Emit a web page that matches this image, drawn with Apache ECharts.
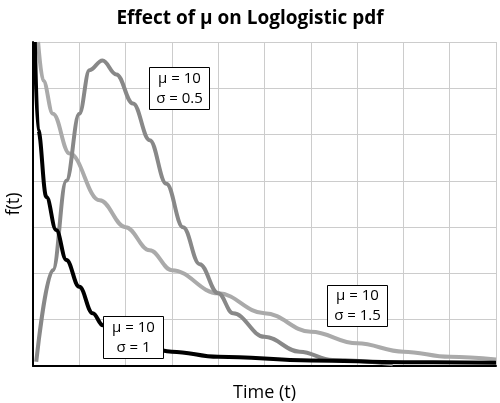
<!DOCTYPE html><html><head><meta charset="utf-8"><script src="https://cdn.jsdelivr.net/npm/echarts@6/dist/echarts.min.js"></script></head><body style="margin:0"><div id="c" style="width:500px;height:403px"></div><script>
const sigma05 = [[0.07,0.09],[0.43,2.07],[0.72,4.0],[1.0,5.45],[1.22,6.39],[1.5,6.6],[1.8,6.3],[2.16,5.67],[2.52,4.88],[2.88,3.94],[3.24,3.0],[3.6,2.2],[4.0,1.57],[4.32,1.14],[5.0,0.63],[5.76,0.31],[6.47,0.13],[7.77,0.04]];
const sigma15 = [[0.11,7.0],[0.22,6.17],[0.43,5.45],[0.79,4.59],[1.44,3.58],[2.0,3.0],[2.52,2.5],[3.0,2.07],[4.0,1.57],[5.0,1.14],[6.0,0.74],[7.0,0.49],[8.0,0.31],[9.0,0.2],[10,0.14]];
const sigma1 = [[0.04,7.0],[0.11,5.1],[0.29,3.65],[0.5,2.94],[0.72,2.29],[1.0,1.71],[1.29,1.14],[1.51,0.88],[2.0,0.56],[3.0,0.31],[4.0,0.2],[6.0,0.12],[8.0,0.08],[10,0.07]];
const F = '"Open Sans", "DejaVu Sans", sans-serif';
const ch = echarts.init(document.getElementById('c'));
function box(x,y,w,h,t){return {type:'group',left:x,top:y,z:100,children:[{type:'rect',z:100,shape:{x:0,y:0,width:w,height:h},style:{fill:'#fff',stroke:'#000',lineWidth:1}},{type:'text',z:101,style:{x:w/2,y:h/2,text:t,align:'center',verticalAlign:'middle',font:'15px '+F,fill:'#000',lineHeight:20}}]};}
ch.setOption({
 animation:false,
 title:{text:'Effect of μ on Loglogistic pdf',left:'center',top:4,textStyle:{fontFamily:F,fontSize:19,fontWeight:'bold',color:'#000'}},
 grid:{left:33,right:4,top:42,bottom:37,containLabel:false,outerBoundsMode:'none'},
 xAxis:{type:'value',min:0,max:10,interval:1,name:'Time (t)',nameLocation:'middle',nameGap:18,nameTextStyle:{fontFamily:F,fontSize:18,color:'#000'},axisLabel:{show:false},axisTick:{show:false},axisLine:{lineStyle:{color:'#000',width:2}},splitLine:{lineStyle:{color:'#ccc'}}},
 yAxis:{type:'value',min:0,max:7,interval:1,name:'f(t)',nameLocation:'middle',nameGap:10,nameTextStyle:{fontFamily:F,fontSize:18,color:'#000'},axisLabel:{show:false},axisTick:{show:false},axisLine:{show:true,lineStyle:{color:'#000',width:2}},splitLine:{lineStyle:{color:'#ccc'}}},
 series:[
  {type:'line',data:sigma15,smooth:0.4,smoothMonotone:'x',symbol:'none',lineStyle:{color:'#aaaaaa',width:4},clip:true},
  {type:'line',data:sigma05,smooth:0.4,smoothMonotone:'x',symbol:'none',lineStyle:{color:'#888888',width:4},clip:true},
  {type:'line',data:sigma1,smooth:0.4,smoothMonotone:'x',symbol:'none',lineStyle:{color:'#000000',width:4},clip:true}
 ],
 graphic:[box(149,67,60,42,'μ = 10\nσ = 0.5'),box(327,285,60,41,'μ = 10\nσ = 1.5'),box(103,316,60,42,'μ = 10\nσ = 1')]
});
</script></body></html>
